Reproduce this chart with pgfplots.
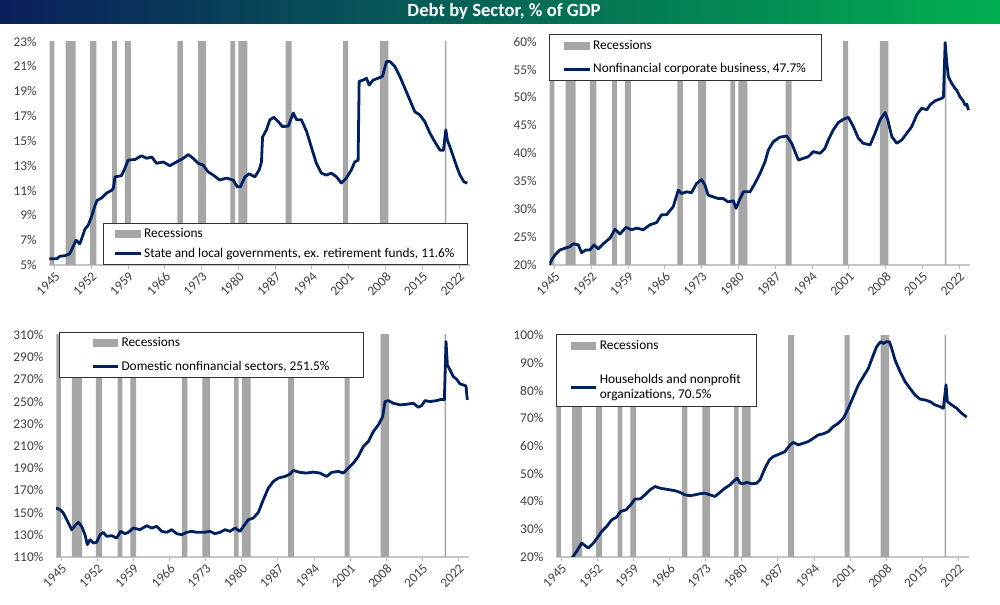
\documentclass[border=0pt]{standalone}
\usepackage{fontspec}
\setmainfont{Carlito}
\usepackage{pgfplots}
\pgfplotsset{compat=1.18}
\usepackage{pgfplotstable}

\definecolor{navy}{RGB}{0,32,96}
\definecolor{recgray}{RGB}{166,166,166}
\definecolor{labgray}{RGB}{64,64,64}
\definecolor{titleL}{RGB}{10,31,92}
\definecolor{titleR}{RGB}{0,176,80}
\newcommand\tickfont{\fontsize{10}{11}\selectfont}
\newcommand\legfont{\fontsize{10}{11.5}\selectfont}

% recession bars (x, y) polygon: bottom 0, top 400 (clipped)
\pgfplotstableread{
x y
1944.05 0
1944.05 400
1944.95 400
1944.95 0
1947.10 0
1947.10 400
1949.00 400
1949.00 0
1951.72 0
1951.72 400
1952.95 400
1952.95 0
1955.95 0
1955.95 400
1956.85 400
1956.85 0
1958.40 0
1958.40 400
1959.55 400
1959.55 0
1968.38 0
1968.38 400
1969.45 400
1969.45 0
1972.35 0
1972.35 400
1973.85 400
1973.85 0
1978.50 0
1978.50 400
1979.40 400
1979.40 0
1980.00 0
1980.00 400
1981.72 400
1981.72 0
1989.00 0
1989.00 400
1990.15 400
1990.15 0
1999.95 0
1999.95 400
2000.90 400
2000.90 0
2006.92 0
2006.92 400
2008.55 400
2008.55 0
2019.30 0
2019.30 400
2019.62 400
2019.62 0
}\rec

\pgfplotstableread{
x y
1944.0 5.5
1945.4 5.5
1946.0 5.7
1947.0 5.75
1947.9 5.9
1949.1 7.0
1949.8 6.7
1950.15 7.1
1950.8 7.9
1951.4 8.2
1952.05 8.9
1952.7 9.8
1953.1 10.2
1953.95 10.4
1954.9 10.8
1955.85 11.0
1956.2 11.2
1956.5 12.1
1957.75 12.2
1958.4 12.8
1959.0 13.45
1960.3 13.5
1961.55 13.8
1962.5 13.6
1963.5 13.7
1964.4 13.2
1965.7 13.3
1966.95 13.0
1968.2 13.3
1969.5 13.6
1970.45 13.9
1971.4 13.6
1972.35 13.2
1973.3 13.05
1974.25 12.5
1975.2 12.25
1976.45 11.85
1977.75 12.0
1979.0 11.85
1979.8 11.3
1980.4 11.3
1981.25 12.1
1982.05 12.35
1983.15 12.1
1983.95 12.65
1984.4 13.3
1984.6 15.3
1985.35 15.9
1986.0 16.7
1986.75 16.9
1987.6 16.55
1988.4 16.15
1989.5 16.2
1990.45 17.25
1991.1 16.7
1992.0 16.7
1993.0 15.75
1993.9 14.5
1994.85 13.2
1995.8 12.4
1996.75 12.25
1997.7 12.4
1998.7 12.1
1999.6 11.6
2000.55 12.0
2001.5 12.65
2002.15 13.3
2002.8 13.45
2003.0 19.8
2003.75 19.9
2004.4 20.05
2004.9 19.5
2005.65 19.9
2006.6 20.05
2007.45 20.2
2008.2 21.4
2008.85 21.4
2009.8 21.0
2010.75 20.2
2011.7 19.25
2012.65 18.3
2013.6 17.35
2014.55 17.1
2015.5 16.55
2016.5 15.6
2017.45 14.9
2018.4 14.25
2019.05 14.25
2019.5 15.9
2019.8 15.05
2020.3 14.5
2020.95 13.7
2021.6 12.9
2022.2 12.25
2022.95 11.7
2023.6 11.6
}\pone

\pgfplotstableread{
x y
1944.0 20.0
1944.44 20.9
1945.08 21.8
1946.03 22.7
1946.98 23.0
1947.93 23.3
1948.57 23.8
1949.52 23.6
1950.15 22.2
1950.98 22.7
1951.74 22.7
1952.5 23.6
1953.32 22.9
1954.28 23.8
1955.55 24.8
1956.5 26.4
1957.45 25.55
1958.6 26.75
1959.67 26.3
1960.62 26.6
1961.89 26.3
1963.16 27.2
1964.43 27.6
1965.38 29.0
1966.33 29.0
1967.6 30.45
1968.56 33.4
1969.19 32.8
1970.14 33.1
1971.09 32.95
1972.04 34.6
1973.0 35.3
1973.63 34.3
1974.26 32.5
1975.22 32.2
1976.17 31.9
1977.12 31.9
1978.03 31.3
1979.04 31.5
1979.55 30.15
1980.18 31.6
1980.95 33.1
1982.22 33.1
1983.15 34.6
1984.13 36.4
1985.08 38.5
1985.71 40.6
1986.66 42.1
1987.93 42.9
1989.2 43.1
1990.15 41.8
1991.42 38.8
1992.37 39.1
1993.32 39.4
1994.27 40.3
1995.54 40.0
1996.49 40.9
1997.13 42.4
1998.08 44.2
1999.03 45.5
1999.99 46.1
2000.94 46.45
2001.89 44.8
2002.84 42.7
2003.77 41.8
2005.08 41.5
2006.03 43.6
2006.98 46.0
2007.94 47.3
2008.45 46.0
2009.21 43.0
2010.16 41.8
2011.12 42.4
2012.07 43.6
2013.02 44.8
2013.97 46.9
2014.92 48.1
2015.88 47.8
2016.51 48.7
2017.46 49.4
2018.73 49.85
2019.05 50.1
2019.37 59.8
2019.69 56.1
2020.0 53.7
2020.64 52.5
2021.27 51.6
2021.59 51.3
2022.22 50.1
2022.73 49.5
2023.17 48.65
2023.49 48.8
2023.81 47.75
}\ptwo

\pgfplotstableread{
x y
1944.0 154.1
1944.78 152.6
1945.42 149.6
1946.07 143.6
1947.04 134.6
1947.68 138.2
1948.33 141.2
1948.97 137.6
1949.62 130.1
1950.07 121.1
1950.59 125.6
1951.24 122.6
1951.88 123.2
1952.53 130.1
1953.17 132.2
1953.82 128.6
1954.79 129.2
1955.76 127.1
1956.53 133.1
1957.37 131.0
1958.02 132.2
1958.99 136.1
1960.28 134.6
1961.57 138.2
1962.54 136.1
1963.51 137.6
1964.48 133.1
1965.45 132.2
1966.42 134.6
1967.39 131.0
1968.35 130.1
1969.32 132.2
1970.29 133.1
1971.26 132.2
1972.55 132.2
1973.84 133.1
1974.81 131.0
1975.78 132.2
1976.75 134.6
1977.72 133.1
1978.69 136.1
1979.66 133.1
1980.31 137.6
1981.28 143.6
1982.25 145.1
1983.21 150.2
1984.18 161.6
1985.15 172.1
1986.12 178.1
1987.09 181.1
1988.38 182.6
1989.35 184.7
1990.0 188.0
1991.29 186.2
1992.58 185.6
1993.87 186.5
1995.16 185.6
1996.45 182.6
1997.42 186.2
1998.72 187.1
1999.68 185.6
2000.65 190.1
2001.62 194.6
2002.59 200.6
2003.56 209.6
2004.53 214.0
2005.5 223.0
2006.47 229.0
2007.31 236.5
2007.76 250.0
2008.41 250.9
2009.37 248.5
2010.67 247.0
2011.96 247.6
2013.25 248.5
2014.22 244.9
2014.86 246.4
2015.51 250.9
2016.48 250.0
2017.77 250.9
2018.74 252.1
2019.26 251.5
2019.58 304.0
2019.84 283.0
2020.36 278.5
2021.0 272.5
2021.65 270.1
2022.29 265.9
2022.93 265.0
2023.45 264.1
2023.71 251.5
}\pthree

\pgfplotstableread{
x y
1946.8 18.5
1947.23 20.0
1948.0 22.0
1948.97 25.0
1949.62 24.1
1950.27 23.2
1951.24 25.0
1952.2 27.4
1952.85 29.2
1953.82 31.0
1954.79 33.4
1955.76 34.4
1956.53 36.4
1957.57 37.0
1958.47 38.8
1959.31 40.9
1960.28 40.9
1961.25 42.4
1962.22 44.2
1963.19 45.4
1964.16 44.8
1965.12 44.5
1966.09 44.2
1967.06 43.9
1968.03 43.3
1969.0 42.4
1969.97 42.1
1970.94 42.4
1971.91 42.8
1972.88 43.0
1973.84 42.4
1974.81 41.8
1975.78 43.3
1976.75 44.8
1977.72 46.0
1978.69 47.8
1979.14 48.4
1979.66 46.6
1980.31 46.4
1980.96 46.9
1981.93 46.4
1982.9 46.6
1983.54 47.8
1984.5 52.0
1985.34 55.0
1986.12 56.2
1987.42 57.2
1988.38 58.0
1989.35 60.4
1990.0 61.3
1990.96 60.4
1991.93 61.0
1992.9 61.6
1993.87 62.8
1994.84 64.0
1995.81 64.4
1996.78 65.2
1997.75 67.0
1998.72 68.2
1999.68 70.0
2000.65 73.6
2001.62 77.8
2002.59 82.0
2003.56 85.0
2004.53 88.0
2005.37 92.2
2006.14 95.8
2006.92 97.6
2007.44 97.0
2008.08 97.6
2008.6 97.6
2009.05 95.2
2009.7 91.0
2010.67 86.8
2011.64 83.2
2012.6 80.8
2013.57 78.4
2014.54 76.9
2015.51 76.6
2016.48 76.0
2017.45 74.8
2018.42 74.2
2019.06 73.6
2019.58 82.0
2019.84 76.0
2020.68 74.8
2021.65 73.6
2022.62 71.8
2023.58 70.4
}\pfour

\pgfplotsset{
  panel/.style={
    scale only axis,
    xmin=1944, xmax=2024.1,
    axis x line*=bottom, axis y line*=left,
    axis line style={-},
    x axis line style={draw=gray!45, line width=0.8pt},
    y axis line style={draw=none},
    xtick={1945,1952,...,2022},
    xticklabels={1945,1952,1959,1966,1973,1980,1987,1994,2001,2008,2015,2022},
    x tick label style={rotate=45, anchor=north east, inner sep=1pt, font=\tickfont, text=labgray},
    y tick label style={font=\tickfont, text=labgray, xshift=-3pt},
    yticklabel={\pgfmathprintnumber{\tick}\%},
    /pgf/number format/assume math mode=true,
    tick align=outside,
    major tick length=3pt,
    xtick style={draw=gray!55, line width=0.6pt},
    ytick style={draw=none},
    legend cell align=left,
    legend style={draw=black!80, line width=0.6pt, fill=white, font=\legfont,
      nodes={inner xsep=1.5pt, inner ysep=1pt}},
  },
  recplot/.style={fill=recgray, draw=none,
    legend image code/.code={\fill[recgray] (0pt,-3pt) rectangle (19pt,3pt);}},
  lineplot/.style={navy, line width=2.1pt, line join=round,
    legend image code/.code={\draw[navy, line width=2.1pt] (0pt,0pt) -- (19pt,0pt);}},
}

\begin{document}
\begin{tikzpicture}
\fill[white] (0,0) rectangle (750pt,453.75pt);
\shade[left color=titleL, right color=titleR] (0,436pt) rectangle (750pt,453.75pt);
\node[text=white, font=\fontsize{14}{16}\selectfont\bfseries] at (378pt,444.9pt) {Debt by Sector, \% of GDP};

% Panel 1
\begin{axis}[panel, at={(36.975pt,255pt)}, anchor=south west,
  width=315.5pt, height=167.5pt,
  ymin=5, ymax=23, ytick={5,7,...,23},
  legend style={at={(0.1276,0)}, anchor=south west, inner xsep=8pt, inner ysep=3pt, row sep=4pt}]
\addplot[recplot] table {\rec};
\addlegendentry{Recessions}
\addplot[lineplot] table {\pone};
\addlegendentry{State and local governments, ex. retirement funds, 11.6\%}
\end{axis}

% Panel 2
\begin{axis}[panel, at={(411.975pt,255pt)}, anchor=south west,
  width=315.5pt, height=167.5pt,
  ymin=20, ymax=60, ytick={20,25,...,60},
  legend style={at={(0,1.0345)}, anchor=north west, inner xsep=10pt, inner ysep=3.5pt, row sep=7pt}]
\addplot[recplot] table {\rec};
\addlegendentry{Recessions}
\addplot[lineplot] table {\ptwo};
\addlegendentry{Nonfinancial corporate business, 47.7\%}
\end{axis}

% Panel 3
\begin{axis}[panel, at={(42pt,36pt)}, anchor=south west,
  width=310pt, height=166.5pt,
  ymin=110, ymax=310, ytick={110,130,...,310},
  legend style={at={(0.0073,1.0135)}, anchor=north west, inner xsep=24pt, inner ysep=3pt, row sep=7pt}]
\addplot[recplot] table {\rec};
\addlegendentry{Recessions}
\addplot[lineplot] table {\pthree};
\addlegendentry{Domestic nonfinancial sectors, 251.5\%}
\end{axis}

% Panel 4
\begin{axis}[panel, at={(417pt,36pt)}, anchor=south west,
  width=310pt, height=166.5pt,
  ymin=20, ymax=100, ytick={20,30,...,100},
  legend style={at={(0,1.0045)}, anchor=north west, inner xsep=10pt, inner ysep=3.5pt, row sep=15pt}]
\addplot[recplot] table {\rec};
\addlegendentry{Recessions}
\addplot[lineplot] table {\pfour};
\addlegendentry[align=left]{Households and nonprofit\\organizations, 70.5\%}
\end{axis}

\pgfresetboundingbox
\path[use as bounding box] (0,0) rectangle (750pt,453.75pt);
\end{tikzpicture}
\end{document}
